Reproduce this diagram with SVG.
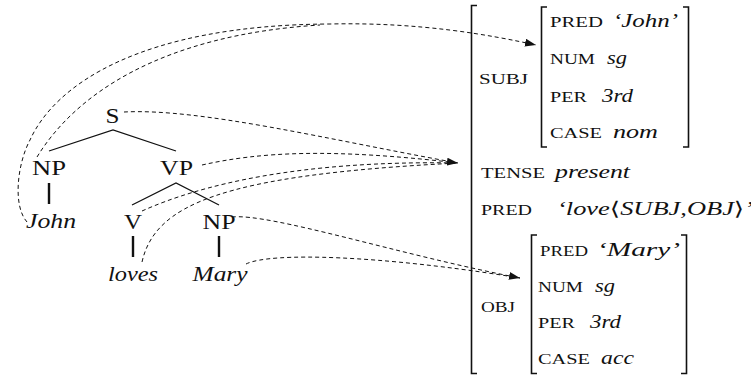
<svg xmlns="http://www.w3.org/2000/svg" width="751" height="377" viewBox="0 0 751 377">
  <style>
    text { font-family: "Liberation Serif", "DejaVu Serif", serif; fill: #111; }
    .cat { font-size: 22px; text-anchor: middle; }
    .leaf { font-size: 20px; font-style: italic; text-anchor: middle; }
    .attr { font-size: 14px; }
    .val { font-size: 19px; font-style: italic; }
    .ang { font-family: "DejaVu Serif", serif; font-style: normal; }
    .branch { stroke: #111; stroke-width: 1.3; fill: none; }
    .stem { stroke: #111; stroke-width: 2.4; fill: none; }
    .bracket { stroke: #111; stroke-width: 1.6; fill: none; }
    .link { stroke: #111; stroke-width: 1; fill: none; stroke-dasharray: 4 3; }
  </style>
  <defs>
    <marker id="head" markerUnits="userSpaceOnUse" markerWidth="12" markerHeight="8" refX="11" refY="4" orient="auto">
      <path d="M0,0 L11,4 L0,8 Z" fill="#111"/>
    </marker>
  </defs>

  <!-- c-structure tree -->
  <g id="tree-edges">
    <path class="branch" d="M49,151 L113,130 L176,151"/>
    <path class="branch" d="M132,205 L176,183 L219,205"/>
    <path class="stem" d="M49,183 L49,204"/>
    <path class="stem" d="M133,236 L133,257"/>
    <path class="stem" d="M219,236 L219,257"/>
  </g>
  <g id="node-S"><text class="cat" x="112.5" y="123" textLength="14" lengthAdjust="spacingAndGlyphs">S</text></g>
  <g id="node-NP-subj"><text class="cat" x="49" y="175" textLength="34" lengthAdjust="spacingAndGlyphs">NP</text></g>
  <g id="node-VP"><text class="cat" x="176.5" y="175" textLength="33" lengthAdjust="spacingAndGlyphs">VP</text></g>
  <g id="node-V"><text class="cat" x="133" y="229" textLength="18" lengthAdjust="spacingAndGlyphs">V</text></g>
  <g id="node-NP-obj"><text class="cat" x="219" y="229" textLength="33" lengthAdjust="spacingAndGlyphs">NP</text></g>
  <g id="leaf-John"><text class="leaf" x="51" y="228" textLength="50" lengthAdjust="spacingAndGlyphs">John</text></g>
  <g id="leaf-loves"><text class="leaf" x="133" y="281" textLength="50" lengthAdjust="spacingAndGlyphs">loves</text></g>
  <g id="leaf-Mary"><text class="leaf" x="220" y="281" textLength="55" lengthAdjust="spacingAndGlyphs">Mary</text></g>

  <!-- f-structure -->
  <g id="fstruct-outer">
    <path class="bracket" d="M477,5.5 L471.5,5.5 L471.5,373.5 L477,373.5"/>
    <text class="attr" x="479" y="84" textLength="49" lengthAdjust="spacingAndGlyphs">SUBJ</text>
    <text class="attr" x="481" y="178" textLength="64" lengthAdjust="spacingAndGlyphs">TENSE</text>
    <text class="val" x="555" y="178" textLength="75" lengthAdjust="spacingAndGlyphs">present</text>
    <text class="attr" x="481" y="215" textLength="51" lengthAdjust="spacingAndGlyphs">PRED</text>
    <text class="val" x="557" y="215" textLength="196" lengthAdjust="spacingAndGlyphs">‘love<tspan class="ang">⟨</tspan>SUBJ,OBJ<tspan class="ang">⟩</tspan>’</text>
    <text class="attr" x="481" y="312" textLength="34" lengthAdjust="spacingAndGlyphs">OBJ</text>
  </g>
  <g id="fstruct-subj">
    <path class="bracket" d="M547,7 L541.5,7 L541.5,147 L547,147"/>
    <path class="bracket" d="M683,7 L688.5,7 L688.5,147 L683,147"/>
    <text class="attr" x="550" y="27" textLength="53" lengthAdjust="spacingAndGlyphs">PRED</text>
    <text class="val" x="613" y="27" textLength="65" lengthAdjust="spacingAndGlyphs">‘John’</text>
    <text class="attr" x="550" y="64" textLength="45" lengthAdjust="spacingAndGlyphs">NUM</text>
    <text class="val" x="607" y="64" textLength="20" lengthAdjust="spacingAndGlyphs">sg</text>
    <text class="attr" x="550" y="102" textLength="37" lengthAdjust="spacingAndGlyphs">PER</text>
    <text class="val" x="602" y="102" textLength="31" lengthAdjust="spacingAndGlyphs">3rd</text>
    <text class="attr" x="550" y="138" textLength="52" lengthAdjust="spacingAndGlyphs">CASE</text>
    <text class="val" x="613" y="138" textLength="45" lengthAdjust="spacingAndGlyphs">nom</text>
  </g>
  <g id="fstruct-obj">
    <path class="bracket" d="M537,235 L531.5,235 L531.5,373.5 L537,373.5"/>
    <path class="bracket" d="M681,235 L686.5,235 L686.5,373.5 L681,373.5"/>
    <text class="attr" x="540" y="256" textLength="48" lengthAdjust="spacingAndGlyphs">PRED</text>
    <text class="val" x="597" y="256" textLength="83" lengthAdjust="spacingAndGlyphs">‘Mary’</text>
    <text class="attr" x="538" y="292" textLength="45" lengthAdjust="spacingAndGlyphs">NUM</text>
    <text class="val" x="595" y="292" textLength="20" lengthAdjust="spacingAndGlyphs">sg</text>
    <text class="attr" x="538" y="328" textLength="37" lengthAdjust="spacingAndGlyphs">PER</text>
    <text class="val" x="590" y="328" textLength="31" lengthAdjust="spacingAndGlyphs">3rd</text>
    <text class="attr" x="538" y="364" textLength="52" lengthAdjust="spacingAndGlyphs">CASE</text>
    <text class="val" x="601" y="364" textLength="33" lengthAdjust="spacingAndGlyphs">acc</text>
  </g>

  <!-- projection links from c-structure to f-structure -->
  <g id="connectors">
    <path class="link" d="M27,222 C12,205 18,162 30,140 C55,85 140,25 330,24 C420,22 490,35 536,45" marker-end="url(#head)"/>
    <path class="link" d="M37,157 C75,95 160,35 320,25"/>
    <path class="link" d="M124,112 C200,108 330,140 458,163"/>
    <path class="link" d="M202,165 C260,152 330,148 458,163" marker-end="url(#head)"/>
    <path class="link" d="M142,211 C200,185 300,160 458,163"/>
    <path class="link" d="M142,262 C155,205 220,175 458,163"/>
    <path class="link" d="M232,217 C270,213 400,255 520,278" marker-end="url(#head)"/>
    <path class="link" d="M246,264 C270,252 380,255 520,278"/>
  </g>
</svg>
